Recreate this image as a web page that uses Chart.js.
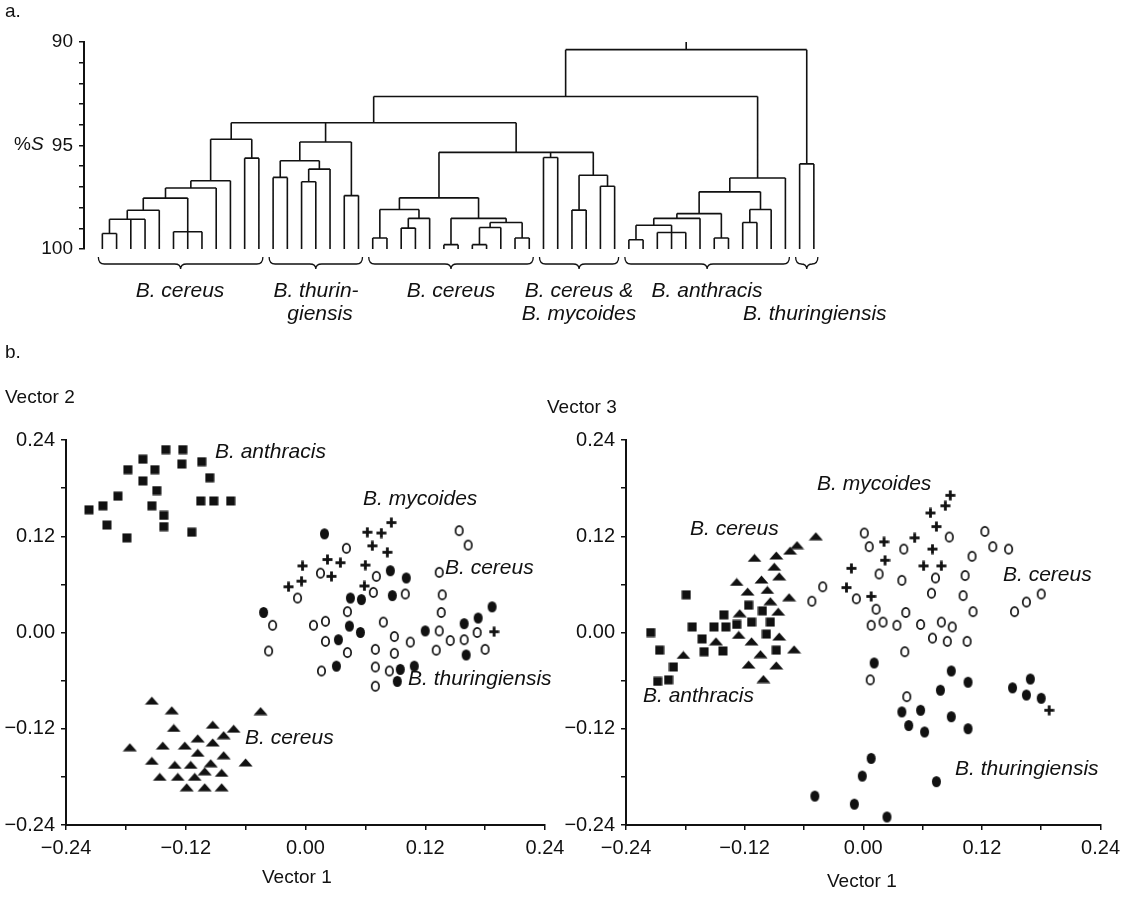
<!DOCTYPE html>
<html>
<head>
<meta charset="utf-8">
<title>B. cereus group: dendrogram and principal coordinates</title>
<script src="https://cdn.jsdelivr.net/npm/chart.js@4.4.1/dist/chart.umd.min.js"></script>
<style>
  html, body { margin: 0; padding: 0; background: #fff; }
  body { width: 1126px; height: 900px; position: relative; overflow: hidden;
         font-family: "Liberation Sans", Arial, Helvetica, sans-serif; color: #111; }
  canvas { position: absolute; }
  .t { position: absolute; white-space: nowrap; font-size: 19px; line-height: 22px; }
  .sp { font-style: italic; font-size: 21px; }
  .dg { font-style: italic; font-size: 21px; transform: translateX(-50%); }
  .dl { font-style: italic; font-size: 21px; }
</style>
</head>
<body>
<canvas id="dendro" width="1126" height="340" style="left:0;top:0"></canvas>
<canvas id="pcoA" width="575" height="510" style="left:0;top:380px"></canvas>
<canvas id="pcoB" width="566" height="510" style="left:560px;top:380px"></canvas>

<div class="t" style="left:5px;top:0px">a.</div>
<div class="t" style="left:14px;top:133px">%<i>S</i></div>
<div class="t dg" style="left:180px;top:279px">B. cereus</div>
<div class="t dg" style="left:316px;top:279px">B. thurin-</div>
<div class="t dg" style="left:320px;top:302px">giensis</div>
<div class="t dg" style="left:451px;top:279px">B. cereus</div>
<div class="t dg" style="left:579px;top:279px">B. cereus &amp;</div>
<div class="t dg" style="left:579px;top:302px">B. mycoides</div>
<div class="t dg" style="left:707px;top:279px">B. anthracis</div>
<div class="t dl" style="left:743px;top:302px">B. thuringiensis</div>

<div class="t" style="left:5px;top:341px">b.</div>
<div class="t" style="left:5px;top:386px">Vector 2</div>
<div class="t" style="left:547px;top:396px">Vector 3</div>
<div class="t" style="left:262px;top:866px">Vector 1</div>
<div class="t" style="left:827px;top:870px">Vector 1</div>

<div class="t sp" style="left:215px;top:440px">B. anthracis</div>
<div class="t sp" style="left:363px;top:487px">B. mycoides</div>
<div class="t sp" style="left:445px;top:556px">B. cereus</div>
<div class="t sp" style="left:408px;top:667px">B. thuringiensis</div>
<div class="t sp" style="left:245px;top:726px">B. cereus</div>

<div class="t sp" style="left:817px;top:472px">B. mycoides</div>
<div class="t sp" style="left:690px;top:517px">B. cereus</div>
<div class="t sp" style="left:1003px;top:563px">B. cereus</div>
<div class="t sp" style="left:643px;top:684px">B. anthracis</div>
<div class="t sp" style="left:955px;top:757px">B. thuringiensis</div>

<script>
// Dendrogram: 51 strains, merges as [node, children, %S]
const leafCount = 51;
const merges = [
  ['c1a', [0, 1], 99.25],
  ['c1b', ['c1a', 2, 3], 98.56],
  ['c1c', ['c1b', 4], 98.13],
  ['c1d', [5, 6, 7], 99.17],
  ['c1e', ['c1c', 'c1d'], 97.54],
  ['c1f', ['c1e', 8], 97.05],
  ['c1g', ['c1f', 9], 96.70],
  ['c1h', [10, 11], 95.61],
  ['c1', ['c1g', 'c1h'], 94.70],
  ['t1a', [12, 13], 96.54],
  ['t1b', [14, 15], 96.75],
  ['t1c', ['t1b', 16], 96.14],
  ['t1d', ['t1a', 't1c'], 95.74],
  ['t1e', [17, 18], 97.42],
  ['t1', ['t1d', 't1e'], 94.83],
  ['c2a', [19, 20], 99.47],
  ['c2b', [21, 22], 98.99],
  ['c2c', ['c2b', 23], 98.52],
  ['c2d', ['c2a', 'c2c'], 98.09],
  ['c2e', [24, 25], 99.79],
  ['c2f', [26, 27], 99.79],
  ['c2g', ['c2f', 28], 98.96],
  ['c2h', [29, 30], 99.47],
  ['c2i', ['c2g', 'c2h'], 98.72],
  ['c2j', ['c2e', 'c2i'], 98.52],
  ['c2', ['c2d', 'c2j'], 97.53],
  ['m1a', [31, 32], 95.58],
  ['m1b', [33, 34], 98.12],
  ['m1c', [35, 36], 96.97],
  ['m1d', ['m1b', 'm1c'], 96.44],
  ['cm', ['c2', 'm1a', 'm1d'], 95.33],
  ['top3', ['c1', 't1', 'cm'], 93.90],
  ['a1a', [37, 38], 99.55],
  ['a1b', [39, 40, 41], 99.20],
  ['a1c', ['a1a', 'a1b'], 98.85],
  ['a1d', ['a1c', 42], 98.52],
  ['a1e', [43, 44], 99.47],
  ['a1f', ['a1d', 'a1e'], 98.29],
  ['a1g', [45, 46], 98.72],
  ['a1h', ['a1g', 47], 98.09],
  ['a1i', ['a1f', 'a1h'], 97.24],
  ['a1', ['a1i', 48], 96.57],
  ['ab', ['top3', 'a1'], 92.63],
  ['t2', [49, 50], 95.89],
  ['root', ['ab', 't2'], 90.37],
];
const braceGroups = [[0, 11], [12, 18], [19, 30], [31, 36], [37, 48], [49, 50]];
const dendroTicks = [90, 91, 92, 93, 94, 95, 96, 97, 98, 99, 100];
const dendroLabelled = [90, 95, 100];

// Principal coordinates, vector 1 vs vector 2
const aAnthracis = [[-0.140,0.228],[-0.123,0.228],[-0.163,0.216],[-0.124,0.210],[-0.104,0.213],[-0.178,0.203],[-0.151,0.203],[-0.096,0.193],[-0.163,0.189],[-0.149,0.177],[-0.188,0.170],[-0.203,0.158],[-0.217,0.153],[-0.154,0.158],[-0.105,0.164],[-0.092,0.164],[-0.075,0.164],[-0.142,0.146],[-0.199,0.134],[-0.142,0.132],[-0.179,0.118],[-0.114,0.125]];
const aCereusTri = [[-0.154,-0.085],[-0.134,-0.097],[-0.045,-0.098],[-0.132,-0.119],[-0.093,-0.115],[-0.072,-0.120],[-0.082,-0.128],[-0.108,-0.132],[-0.093,-0.137],[-0.176,-0.143],[-0.143,-0.141],[-0.121,-0.141],[-0.108,-0.150],[-0.082,-0.153],[-0.154,-0.160],[-0.131,-0.165],[-0.115,-0.165],[-0.095,-0.163],[-0.060,-0.162],[-0.101,-0.173],[-0.084,-0.175],[-0.146,-0.180],[-0.128,-0.180],[-0.111,-0.180],[-0.119,-0.193],[-0.101,-0.193],[-0.084,-0.193]];
const aCereusOpen = [[0.154,0.127],[0.163,0.109],[0.041,0.105],[0.015,0.074],[0.071,0.070],[0.134,0.075],[-0.008,0.043],[0.068,0.050],[0.100,0.048],[0.137,0.047],[0.042,0.026],[0.136,0.025],[-0.033,0.009],[0.008,0.009],[0.020,0.014],[0.078,0.013],[0.134,0.002],[0.020,-0.011],[0.089,-0.005],[0.105,-0.012],[0.145,-0.010],[0.159,-0.009],[0.172,0.000],[-0.037,-0.023],[0.042,-0.025],[0.070,-0.021],[0.089,-0.026],[0.131,-0.022],[0.180,-0.021],[0.016,-0.048],[0.070,-0.043],[0.084,-0.048],[0.070,-0.067]];
const aThur = [[0.019,0.123],[0.085,0.077],[0.101,0.068],[0.045,0.043],[0.056,0.041],[0.087,0.046],[-0.042,0.025],[0.187,0.032],[0.173,0.018],[0.159,0.011],[0.044,0.008],[0.055,0.000],[0.120,0.002],[0.033,-0.009],[0.161,-0.028],[0.031,-0.042],[0.095,-0.046],[0.109,-0.042],[0.092,-0.061]];
const aMycoides = [[0.086,0.137],[0.062,0.125],[0.076,0.124],[0.067,0.108],[0.082,0.100],[0.022,0.091],[0.035,0.087],[0.060,0.084],[-0.003,0.083],[0.026,0.070],[-0.004,0.064],[0.059,0.058],[-0.017,0.057],[0.189,0.001]];

// Principal coordinates, vector 1 vs vector 3
const bAnthracis = [[-0.215,0.000],[-0.206,-0.022],[-0.179,0.047],[-0.173,0.007],[-0.163,-0.008],[-0.161,-0.024],[-0.192,-0.043],[-0.197,-0.059],[-0.208,-0.061],[-0.151,0.007],[-0.142,-0.023],[-0.141,0.022],[-0.139,0.007],[-0.128,0.010],[-0.116,0.034],[-0.113,0.013],[-0.102,0.027],[-0.094,0.013],[-0.098,-0.002],[-0.088,-0.022]];
const bCereusTri = [[-0.048,0.120],[-0.067,0.109],[-0.074,0.102],[-0.110,0.093],[-0.088,0.096],[-0.090,0.082],[-0.085,0.070],[-0.128,0.063],[-0.103,0.066],[-0.117,0.051],[-0.097,0.053],[-0.075,0.044],[-0.094,0.039],[-0.125,0.024],[-0.086,0.026],[-0.149,-0.011],[-0.126,-0.003],[-0.113,-0.011],[-0.085,-0.005],[-0.182,-0.028],[-0.104,-0.027],[-0.070,-0.021],[-0.116,-0.040],[-0.088,-0.041],[-0.101,-0.058]];
const bCereusOpen = [[0.001,0.124],[0.006,0.107],[0.041,0.104],[0.087,0.119],[0.123,0.126],[0.131,0.107],[0.147,0.104],[0.110,0.095],[0.016,0.073],[0.039,0.065],[0.073,0.068],[0.103,0.071],[-0.041,0.057],[-0.052,0.039],[-0.007,0.042],[0.069,0.049],[0.101,0.046],[0.180,0.048],[0.165,0.038],[0.153,0.026],[0.013,0.029],[0.043,0.025],[0.111,0.026],[0.008,0.009],[0.020,0.013],[0.034,0.009],[0.058,0.010],[0.079,0.013],[0.090,0.007],[0.070,-0.007],[0.085,-0.011],[0.105,-0.011],[0.042,-0.024],[0.007,-0.059],[0.044,-0.080]];
const bThur = [[0.011,-0.038],[0.089,-0.048],[0.106,-0.062],[0.078,-0.072],[0.169,-0.058],[0.151,-0.069],[0.165,-0.078],[0.180,-0.082],[0.039,-0.099],[0.058,-0.097],[0.046,-0.116],[0.062,-0.124],[0.089,-0.105],[0.106,-0.120],[0.008,-0.157],[-0.001,-0.179],[0.074,-0.186],[-0.049,-0.204],[-0.009,-0.214],[0.024,-0.230]];
const bMycoides = [[0.088,0.171],[0.083,0.158],[0.068,0.149],[0.074,0.132],[0.052,0.118],[0.021,0.113],[0.070,0.104],[0.022,0.090],[-0.012,0.080],[0.061,0.083],[0.079,0.083],[-0.017,0.056],[0.008,0.045],[0.188,-0.097]];

const vecTicks = [-0.24, -0.18, -0.12, -0.06, 0, 0.06, 0.12, 0.18, 0.24];
const vecLabelled = [-0.24, -0.12, 0, 0.12, 0.24];
const vecLabels = ['\u22120.24', '\u22120.12', '0.00', '0.12', '0.24'];

const INK = '#111';
const FONT = '"Liberation Sans", Arial, Helvetica, sans-serif';

// little bitmaps for the symbols
function marker(w, h, draw) {
  const c = document.createElement('canvas');
  c.width = w; c.height = h;
  const g = c.getContext('2d');
  g.fillStyle = INK; g.strokeStyle = INK;
  draw(g);
  return c;
}
const mSquare = marker(10, 10, g => g.fillRect(0.5, 0.5, 9, 9));
const mTri = marker(15, 9, g => { g.beginPath(); g.moveTo(7.5, 0.5); g.lineTo(14.5, 8.5); g.lineTo(0.5, 8.5); g.closePath(); g.fill(); });
const mOpen = marker(11, 13, g => { g.lineWidth = 1.7; g.beginPath(); g.ellipse(5.5, 6.5, 3.7, 4.7, 0, 0, Math.PI * 2); g.stroke(); });
const mFilled = marker(11, 13, g => { g.beginPath(); g.ellipse(5.5, 6.5, 4.5, 5.6, 0, 0, Math.PI * 2); g.fill(); });
const mPlus = marker(11, 11, g => { g.fillRect(4.1, 0.5, 2.8, 10); g.fillRect(0.5, 4.1, 10, 2.8); });

// build dendrogram segments (null breaks the line)
function dendroSegments() {
  const nx = {}, ns = {};
  for (let i = 0; i < leafCount; i++) { nx[i] = i; ns[i] = 100; }
  const pts = [];
  merges.forEach(([name, kids, s]) => {
    const xs = kids.map(k => nx[k]);
    kids.forEach(k => pts.push({ x: nx[k], y: ns[k] }, { x: nx[k], y: s }, { x: nx[k], y: null }));
    const lo = Math.min(...xs), hi = Math.max(...xs);
    pts.push({ x: lo, y: s }, { x: hi, y: s }, { x: hi, y: null });
    nx[name] = (lo + hi) / 2; ns[name] = s;
  });
  pts.push({ x: nx.root, y: ns.root }, { x: nx.root, y: 90 });
  return pts;
}

const bracePlugin = {
  id: 'braces',
  afterDatasetsDraw(chart) {
    const ctx = chart.ctx, xs = chart.scales.x;
    const y = 257, d = 7, r = 6;
    ctx.save();
    ctx.strokeStyle = INK; ctx.lineWidth = 1.3;
    braceGroups.forEach(([a, b]) => {
      const x1 = xs.getPixelForValue(a) - 4, x2 = xs.getPixelForValue(b) + 4, m = (x1 + x2) / 2;
      ctx.beginPath();
      ctx.moveTo(x1, y);
      ctx.quadraticCurveTo(x1, y + d, x1 + r, y + d);
      ctx.lineTo(m - r, y + d);
      ctx.quadraticCurveTo(m, y + d, m, y + d + 5);
      ctx.quadraticCurveTo(m, y + d, m + r, y + d);
      ctx.lineTo(x2 - r, y + d);
      ctx.quadraticCurveTo(x2, y + d, x2, y);
      ctx.stroke();
    });
    ctx.restore();
  }
};

const tickGrid = { display: true, drawOnChartArea: false, drawTicks: true, tickLength: 5, color: INK, lineWidth: 1.5 };
const axisBorder = { display: true, color: INK, width: 2 };

new Chart(document.getElementById('dendro'), {
  type: 'scatter',
  data: { datasets: [{
    data: dendroSegments(), showLine: true, spanGaps: false, clip: false,
    borderColor: INK, borderWidth: 1.6, pointRadius: 0, pointHoverRadius: 0
  }] },
  options: {
    responsive: false, animation: false, devicePixelRatio: 1,
    layout: { padding: { left: 0, right: 276, top: 42, bottom: 91 } },
    plugins: { legend: { display: false }, tooltip: { enabled: false } },
    scales: {
      x: { type: 'linear', display: false, min: -1.29, max: 52.54 },
      y: {
        type: 'linear', reverse: true, min: 90, max: 100,
        afterFit: s => { s.width = 84; },
        afterBuildTicks: s => { s.ticks = dendroTicks.map(v => ({ value: v })); },
        ticks: { autoSkip: false, color: INK, font: { family: FONT, size: 19 }, padding: 6,
                 callback: v => dendroLabelled.includes(v) ? String(v) : '' },
        grid: tickGrid, border: axisBorder
      }
    }
  },
  plugins: [bracePlugin]
});

function vecLabel(v) {
  const i = vecLabelled.findIndex(t => Math.abs(t - v) < 1e-9);
  return i < 0 ? '' : vecLabels[i];
}
function vecAxis(fit) {
  return {
    type: 'linear', min: -0.24, max: 0.24, afterFit: fit,
    afterBuildTicks: s => { s.ticks = vecTicks.map(v => ({ value: v })); },
    ticks: { autoSkip: false, maxRotation: 0, color: INK, font: { family: FONT, size: 20 }, padding: 6, callback: vecLabel },
    grid: tickGrid, border: axisBorder
  };
}
function pcoChart(id, rightPad, series) {
  return new Chart(document.getElementById(id), {
    type: 'scatter',
    data: { datasets: series.map(([pts, sym]) => ({
      data: pts.map(([x, y]) => ({ x, y })),
      pointStyle: sym, pointRadius: 5, pointHoverRadius: 5, borderWidth: 0, clip: false
    })) },
    options: {
      responsive: false, animation: false, devicePixelRatio: 1,
      layout: { padding: { left: 0, right: rightPad, top: 60, bottom: 25 } },
      plugins: { legend: { display: false }, tooltip: { enabled: false } },
      scales: {
        x: vecAxis(s => { s.height = 40; }),
        y: vecAxis(s => { s.width = 66; })
      }
    }
  });
}

pcoChart('pcoA', 30, [
  [aAnthracis, mSquare], [aCereusTri, mTri], [aCereusOpen, mOpen], [aThur, mFilled], [aMycoides, mPlus]
]);
pcoChart('pcoB', 22, [
  [bAnthracis, mSquare], [bCereusTri, mTri], [bCereusOpen, mOpen], [bThur, mFilled], [bMycoides, mPlus]
]);
</script>
</body>
</html>
